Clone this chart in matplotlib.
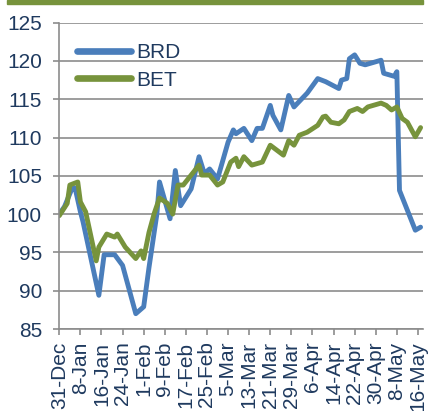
import matplotlib
matplotlib.use("Agg")
import matplotlib.pyplot as plt
from matplotlib.patches import Rectangle
import pandas as pd

brd_dates = ['2013-12-31', '2014-01-02', '2014-01-05', '2014-01-06', '2014-01-08', '2014-01-09',
             '2014-01-15', '2014-01-17', '2014-01-21', '2014-01-24', '2014-01-29', '2014-02-01',
             '2014-02-03', '2014-02-06', '2014-02-07', '2014-02-11', '2014-02-13', '2014-02-15',
             '2014-02-19', '2014-02-22', '2014-02-24', '2014-02-26', '2014-03-01', '2014-03-05',
             '2014-03-07', '2014-03-08', '2014-03-11', '2014-03-14', '2014-03-16', '2014-03-18',
             '2014-03-21', '2014-03-22', '2014-03-25', '2014-03-28', '2014-03-30', '2014-04-04',
             '2014-04-08', '2014-04-11', '2014-04-16', '2014-04-17', '2014-04-19', '2014-04-20',
             '2014-04-22', '2014-04-24', '2014-04-26', '2014-05-02', '2014-05-03', '2014-05-07',
             '2014-05-08', '2014-05-09', '2014-05-15', '2014-05-17']
brd_values = [100.0, 101.0, 103.5, 103.4, 100.3, 99.0,
              89.4, 94.7, 94.7, 93.3, 87.0, 87.9,
              93.0, 100.0, 104.2, 99.4, 105.7, 101.1,
              103.3, 107.5, 105.3, 105.9, 104.6, 109.4,
              111.0, 110.5, 111.2, 109.6, 111.2, 111.2,
              114.2, 112.9, 111.0, 115.5, 114.0, 115.8,
              117.7, 117.3, 116.4, 117.5, 117.7, 120.3,
              120.8, 119.7, 119.5, 120.1, 118.4, 118.0,
              118.6, 103.1, 97.9, 98.3]

bet_dates = ['2013-12-31', '2014-01-03', '2014-01-04', '2014-01-07', '2014-01-08', '2014-01-10',
             '2014-01-14', '2014-01-15', '2014-01-18', '2014-01-21', '2014-01-22', '2014-01-25',
             '2014-01-29', '2014-01-31', '2014-02-01', '2014-02-03', '2014-02-05', '2014-02-07',
             '2014-02-10', '2014-02-12', '2014-02-14', '2014-02-16', '2014-02-19', '2014-02-22',
             '2014-02-23', '2014-02-26', '2014-03-01', '2014-03-03', '2014-03-06', '2014-03-08',
             '2014-03-09', '2014-03-11', '2014-03-14', '2014-03-18', '2014-03-21', '2014-03-26',
             '2014-03-28', '2014-03-30', '2014-04-01', '2014-04-04', '2014-04-08', '2014-04-10',
             '2014-04-11', '2014-04-13', '2014-04-16', '2014-04-18', '2014-04-20', '2014-04-23',
             '2014-04-25', '2014-04-27', '2014-05-02', '2014-05-04', '2014-05-06', '2014-05-08',
             '2014-05-10', '2014-05-12', '2014-05-15', '2014-05-17']
bet_values = [99.8, 101.4, 103.8, 104.2, 101.6, 100.3,
              93.9, 95.7, 97.4, 97.0, 97.4, 95.7,
              94.2, 95.2, 94.2, 97.6, 100.1, 102.1,
              101.4, 100.0, 103.8, 103.8, 105.1, 106.4,
              105.1, 105.1, 103.8, 104.2, 106.8, 107.3,
              106.2, 107.5, 106.4, 106.8, 109.0, 107.7,
              109.6, 109.0, 110.3, 110.7, 111.6, 112.7,
              112.8, 112.0, 111.8, 112.3, 113.4, 113.8,
              113.4, 114.0, 114.5, 114.2, 113.6, 114.0,
              112.5, 112.0, 110.1, 111.3]

tick_labels = ['31-Dec', '8-Jan', '16-Jan', '24-Jan', '1-Feb', '9-Feb', '17-Feb', '25-Feb',
               '5-Mar', '13-Mar', '21-Mar', '29-Mar', '6-Apr', '14-Apr', '22-Apr', '30-Apr',
               '8-May', '16-May']
y_ticks = [85, 90, 95, 100, 105, 110, 115, 120, 125]

BLUE = '#4A7EBB'
GREEN = '#77933C'
TEXT = '#1F3A5F'
GRID = '#8C8C8C'

plt.rcParams['font.family'] = ['Liberation Sans', 'DejaVu Sans']

fig = plt.figure(figsize=(4.30, 4.11), dpi=100)
ax = fig.add_axes([59.3 / 430, 1 - 329 / 411, (423 - 59.3) / 430, (329 - 22.7) / 411])

ax.plot(pd.to_datetime(brd_dates), brd_values, color=BLUE, lw=3.5, label='BRD',
        solid_joinstyle='round', solid_capstyle='round')
ax.plot(pd.to_datetime(bet_dates), bet_values, color=GREEN, lw=3.5, label='BET',
        solid_joinstyle='round', solid_capstyle='round')

tick_pos = pd.date_range('2013-12-31', periods=len(tick_labels), freq='8D')
ax.set_xticks(tick_pos)
ax.set_xticklabels(tick_labels, rotation=90, fontsize=15, color=TEXT)
ax.set_xlim(pd.Timestamp('2013-12-31'), pd.Timestamp('2014-05-17 22:00'))

ax.set_ylim(85, 125)
ax.set_yticks(y_ticks)
ax.set_yticklabels([str(v) for v in y_ticks], fontsize=15, color=TEXT)

ax.grid(axis='y', color=GRID, lw=1.2)
ax.set_axisbelow(True)
for s in ['top', 'right']:
    ax.spines[s].set_visible(False)
for s in ['left', 'bottom']:
    ax.spines[s].set_color(GRID)
    ax.spines[s].set_linewidth(1.2)
ax.tick_params(axis='x', length=4, width=1.2, color=GRID, pad=5)
ax.tick_params(axis='y', length=4.5, width=1.2, color=GRID, pad=8)

leg = ax.legend(loc='upper left', bbox_to_anchor=(77 / 430, 1 - 43 / 411),
                bbox_transform=fig.transFigure, frameon=False, fontsize=15,
                handlelength=2.6, handletextpad=0.25, labelspacing=0.42, borderpad=0,
                borderaxespad=0)
for t in leg.get_texts():
    t.set_color(TEXT)
for h in leg.get_lines():
    h.set_linewidth(4.8)
    h.set_solid_capstyle('round')

fig.patches.append(Rectangle((6.7 / 430, 1 - 4.5 / 411), (423 - 6.7) / 430, 4.5 / 411,
                             transform=fig.transFigure, color=GREEN, zorder=0))

fig.savefig('out.png', dpi=100)
